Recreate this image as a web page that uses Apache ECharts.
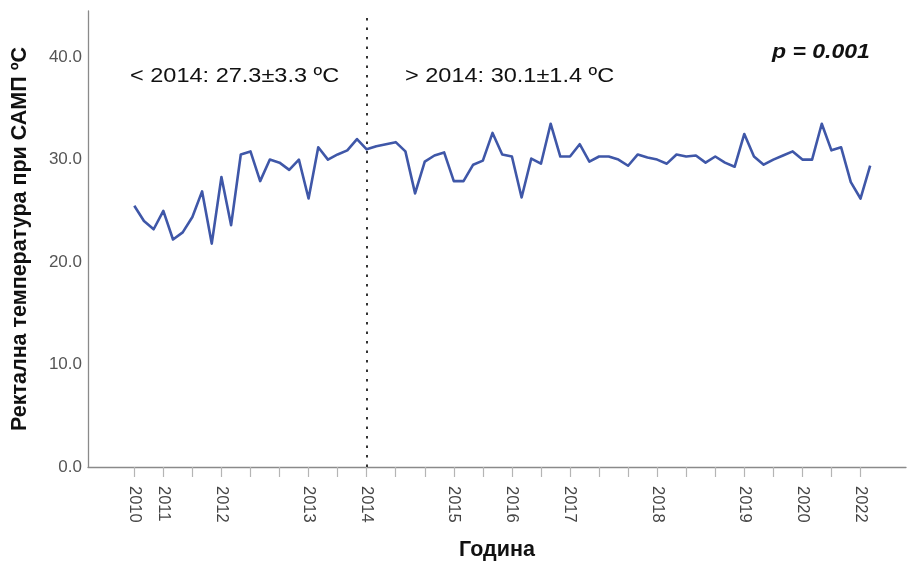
<!DOCTYPE html>
<html>
<head>
<meta charset="utf-8">
<script src="https://cdn.jsdelivr.net/npm/echarts@6/dist/echarts.min.js"></script>
<style>
  html, body { margin: 0; padding: 0; background: #fff; }
  #chart { width: 909px; height: 561px; }
</style>
</head>
<body>
<div id="chart"></div>
<script>
// Rectal temperature per measurement, in chronological order (one point per case)
const temperatures = [
  25.5, 24.0, 23.2, 25.0, 22.2, 22.9, 24.4, 26.9, 21.8, 28.3,
  23.6, 30.5, 30.8, 27.9, 30.0, 29.7, 29.0, 30.0, 26.2, 31.2,
  30.0, 30.5, 30.9, 32.0, 31.0, 31.3, 31.5, 31.7, 30.8, 26.7,
  29.8, 30.4, 30.7, 27.9, 27.9, 29.5, 29.9, 32.6, 30.5, 30.3,
  26.3, 30.1, 29.6, 33.5, 30.3, 30.3, 31.5, 29.8, 30.3, 30.3,
  30.0, 29.4, 30.5, 30.2, 30.0, 29.6, 30.5, 30.3, 30.4, 29.7,
  30.3, 29.7, 29.3, 32.5, 30.3, 29.5, 30.0, 30.4, 30.8, 30.0,
  30.0, 33.5, 30.9, 31.2, 27.8, 26.2, 29.4
];

// Year labels and the case index where each year begins
const yearLabels = ['2010', '2011', '2012', '2013', '2014', '2015', '2016', '2017', '2018', '2019', '2020', '2022'];
const yearStart  = [0, 3, 9, 18, 24, 33, 39, 45, 54, 63, 69, 75];

// Tick marks every third case
const tickPositions = [];
for (let i = 0; i <= 75; i += 3) tickPositions.push(i);

// Split point (start of 2014) and the group summaries
const splitIndex = 24;
const beforeText = '< 2014: 27.3±3.3 ºC';
const afterText = '> 2014: 30.1±1.4 ºC';
const pText = 'p = 0.001';

const yTicks = [0, 10, 20, 30, 40];

const points = temperatures.map((v, i) => [i, v]);
const labelByPos = {};
yearStart.forEach((p, k) => { labelByPos[p] = yearLabels[k]; });

const chart = echarts.init(document.getElementById('chart'), null, { renderer: 'canvas' });

const font = '"Liberation Sans", Arial, sans-serif';

chart.setOption({
  animation: false,
  backgroundColor: '#ffffff',
  grid: { left: 88, right: 3, top: 11, bottom: 94, containLabel: false, outerBoundsMode: 'none' },
  xAxis: {
    type: 'value',
    min: -4.78,
    max: 79.7,
    name: 'Година',
    nameLocation: 'middle',
    nameGap: 72,
    nameTextStyle: { fontFamily: font, fontSize: 21.5, fontWeight: 'bold', color: '#111' },
    axisLine: { show: true, onZero: false, lineStyle: { color: '#8a8a8a', width: 1.3 } },
    axisTick: {
      show: true,
      customValues: tickPositions,
      length: 10,
      inside: false,
      lineStyle: { color: '#b5b5b5', width: 1.2 }
    },
    axisLabel: {
      customValues: yearStart,
      rotate: -90,
      margin: 19,
      fontFamily: font,
      fontSize: 16.5,
      color: '#444',
      formatter: v => labelByPos[Math.round(v)] || ''
    },
    splitLine: { show: false }
  },
  yAxis: {
    type: 'value',
    min: 0,
    max: 44.5,
    name: 'Ректална температура при САМП ºC',
    nameLocation: 'middle',
    nameGap: 57,
    nameTextStyle: { fontFamily: font, fontSize: 21.5, fontWeight: 'bold', color: '#111' },
    axisLine: { show: true, onZero: false, lineStyle: { color: '#8a8a8a', width: 1.3 } },
    axisTick: { show: false, customValues: yTicks },
    axisLabel: {
      customValues: yTicks,
      margin: 6,
      fontFamily: font,
      fontSize: 17,
      color: '#555',
      formatter: v => v.toFixed(1)
    },
    splitLine: { show: false }
  },
  series: [{
    type: 'line',
    data: points,
    showSymbol: false,
    symbol: 'none',
    lineStyle: { color: '#3f57a8', width: 2.6, join: 'round' },
    markLine: {
      silent: true,
      symbol: 'none',
      label: { show: false },
      lineStyle: { color: '#333', type: [2.5, 7], width: 2 },
      data: [[{ coord: [splitIndex, 0] }, { coord: [splitIndex, 44.5] }]]
    }
  }],
  graphic: [
    {
      type: 'text', left: 130, top: 66, scaleX: 1.12,
      style: { text: beforeText, fontFamily: font, fontSize: 21, fill: '#111' }
    },
    {
      type: 'text', left: 405, top: 66, scaleX: 1.12,
      style: { text: afterText, fontFamily: font, fontSize: 21, fill: '#111' }
    },
    {
      type: 'text', left: 772, top: 42, scaleX: 1.15,
      style: { text: pText, fontFamily: font, fontSize: 20, fontWeight: 'bold', fontStyle: 'italic', fill: '#111' }
    }
  ]
});
</script>
</body>
</html>
